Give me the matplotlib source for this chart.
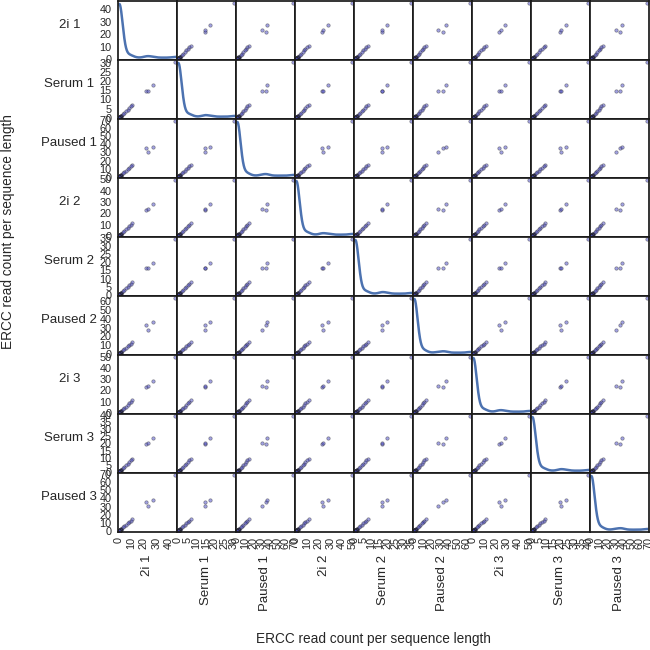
import numpy as np
import matplotlib
matplotlib.use("Agg")
import matplotlib.pyplot as plt
from matplotlib.ticker import MaxNLocator

plt.rcParams['font.family'] = ['Liberation Sans', 'DejaVu Sans']

# ---------------- data: ERCC read count per sequence length ----------------
samples = ["2i 1", "Serum 1", "Paused 1", "2i 2", "Serum 2", "Paused 2",
           "2i 3", "Serum 3", "Paused 3"]

# spike order: top spike, 3 high spikes, 7 mid spikes, 30 low spikes, then undetected spikes
undetected = [0.0] * 50

two_i_1 = [45.5, 22.0, 23.4, 27.2, 10.6, 9.3, 7.8, 6.9, 5.4, 4.3, 3.1,
           1.6, 1.47, 1.33, 1.22, 1.1, 1.02, 0.94, 0.86, 0.79, 0.7, 0.64, 0.58, 0.51, 0.46, 0.4,
           0.36, 0.31, 0.27, 0.23, 0.2, 0.17, 0.14, 0.12, 0.1, 0.08, 0.06, 0.05, 0.03, 0.02,
           0.01] + undetected
serum_1 = [30.5, 14.4, 14.7, 17.6, 7.1, 6.2, 5.3, 4.5, 3.6, 2.9, 2.0,
           1.09, 0.97, 0.92, 0.8, 0.74, 0.7, 0.61, 0.58, 0.52, 0.47, 0.43, 0.38, 0.35, 0.3, 0.27,
           0.24, 0.2, 0.18, 0.15, 0.13, 0.11, 0.09, 0.08, 0.07, 0.05, 0.04, 0.03, 0.02, 0.01,
           0.01] + undetected
paused_1 = [69.0, 35.2, 30.5, 37.2, 14.5, 12.8, 10.6, 9.4, 7.5, 5.9, 4.3,
            2.12, 2.0, 1.79, 1.68, 1.47, 1.38, 1.3, 1.14, 1.08, 0.95, 0.86, 0.8, 0.69, 0.62, 0.55,
            0.49, 0.42, 0.37, 0.31, 0.28, 0.23, 0.19, 0.16, 0.13, 0.1, 0.08, 0.06, 0.04, 0.03,
            0.01] + undetected
two_i_2 = [49.5, 22.8, 24.0, 28.4, 11.2, 9.9, 8.3, 7.2, 5.8, 4.5, 3.3,
           1.66, 1.52, 1.41, 1.27, 1.18, 1.05, 0.99, 0.9, 0.81, 0.74, 0.67, 0.6, 0.54, 0.48, 0.42,
           0.37, 0.33, 0.28, 0.25, 0.21, 0.18, 0.15, 0.12, 0.1, 0.08, 0.07, 0.05, 0.03, 0.02,
           0.01] + undetected
serum_2 = [34.5, 16.3, 16.7, 19.6, 7.8, 6.9, 5.8, 5.0, 4.0, 3.2, 2.3,
           1.17, 1.08, 0.98, 0.9, 0.82, 0.75, 0.69, 0.62, 0.57, 0.51, 0.46, 0.42, 0.37, 0.33, 0.29,
           0.26, 0.22, 0.2, 0.17, 0.14, 0.12, 0.1, 0.09, 0.07, 0.06, 0.04, 0.03, 0.02, 0.02,
           0.01] + undetected
paused_2 = [64.0, 32.8, 27.8, 36.0, 13.3, 11.7, 9.8, 8.6, 6.9, 5.4, 4.0,
            2.0, 1.86, 1.7, 1.55, 1.43, 1.3, 1.2, 1.09, 1.0, 0.9, 0.82, 0.74, 0.66, 0.59, 0.52,
            0.46, 0.4, 0.35, 0.3, 0.26, 0.22, 0.18, 0.15, 0.12, 0.1, 0.08, 0.06, 0.04, 0.02,
            0.01] + undetected
two_i_3 = [50.0, 23.2, 24.4, 28.6, 11.4, 9.8, 8.4, 7.3, 5.7, 4.6, 3.4,
           1.7, 1.57, 1.43, 1.31, 1.2, 1.1, 1.0, 0.92, 0.84, 0.76, 0.69, 0.62, 0.56, 0.5, 0.44,
           0.39, 0.34, 0.3, 0.26, 0.22, 0.19, 0.16, 0.13, 0.11, 0.09, 0.07, 0.05, 0.04, 0.02,
           0.01] + undetected
serum_3 = [39.5, 19.8, 20.4, 24.0, 9.2, 8.1, 6.8, 5.9, 4.7, 3.7, 2.7,
           1.37, 1.26, 1.15, 1.06, 0.97, 0.88, 0.81, 0.74, 0.67, 0.61, 0.55, 0.49, 0.44, 0.39, 0.35,
           0.31, 0.27, 0.23, 0.2, 0.17, 0.15, 0.12, 0.1, 0.08, 0.07, 0.05, 0.04, 0.03, 0.02,
           0.01] + undetected
paused_3 = [69.0, 36.0, 30.6, 38.4, 14.4, 12.6, 10.7, 9.3, 7.4, 5.8, 4.3,
            2.18, 2.0, 1.83, 1.68, 1.53, 1.41, 1.29, 1.18, 1.07, 0.97, 0.88, 0.79, 0.71, 0.64, 0.57,
            0.5, 0.44, 0.39, 0.34, 0.29, 0.25, 0.21, 0.17, 0.14, 0.11, 0.09, 0.07, 0.05, 0.03,
            0.01] + undetected

columns = [two_i_1, serum_1, paused_1, two_i_2, serum_2, paused_2,
           two_i_3, serum_3, paused_3]
axis_title = "ERCC read count per sequence length"

# ---------------- helpers ----------------
def gaussian_kde_eval(values, grid):
    values = np.asarray(values, float)
    n = values.size
    bw = np.std(values, ddof=1) * n ** (-1.0 / 5.0)   # Scott's rule
    diff = (grid[:, None] - values[None, :]) / bw
    return np.exp(-0.5 * diff ** 2).sum(axis=1) / (n * bw * np.sqrt(2 * np.pi))

data = [np.asarray(c, float) for c in columns]
n = len(data)
bounds = []
for v in data:
    ext = (v.max() - v.min()) * 0.05 / 2
    bounds.append((v.min() - ext, v.max() + ext))

fig, axes = plt.subplots(n, n, figsize=(6.5, 6.5), dpi=100)
fig.subplots_adjust(left=0.181, right=0.998, bottom=0.181, top=0.998,
                    wspace=0, hspace=0)

text_col = '0.15'
for i in range(n):
    for j in range(n):
        ax = axes[i, j]
        for s in ax.spines.values():
            s.set_linewidth(1.25)
            s.set_color('0.1')
        ax.tick_params(length=0, labelsize=7.8, colors=text_col)
        ax.tick_params(axis='x', pad=3.5)
        ax.tick_params(axis='y', pad=4.5)
        ax.xaxis.set_major_locator(MaxNLocator(nbins=9, steps=[1, 2, 5, 10]))
        ax.yaxis.set_major_locator(MaxNLocator(nbins=9, steps=[1, 2, 5, 10]))
        if i == j:
            v = data[i]
            ind = np.linspace(v.min(), v.max(), 1000)
            ax.plot(ind, gaussian_kde_eval(v, ind), color='#4C72B0', lw=1.8)
            ax.set_xlim(bounds[i])
        else:
            ax.scatter(data[j], data[i], marker='o', s=6, c='#4848c8',
                       edgecolors='0.15', linewidths=0.5, alpha=0.5)
            ax.set_xlim(bounds[j])
            ax.set_ylim(bounds[i])
        if j == 0:
            ax.set_ylabel(samples[i], rotation=0, fontsize=9.5, color=text_col,
                          ha='center', va='bottom')
            ax.yaxis.set_label_coords(-0.82, 0.5)
        else:
            ax.yaxis.set_visible(False)
        if i == n - 1:
            ax.set_xlabel(samples[j], rotation=90, fontsize=9.5, color=text_col)
        else:
            ax.xaxis.set_visible(False)

# relabel the top-left density axis with the data scale (as pandas does)
lim1 = bounds[0]
locs = axes[0][1].yaxis.get_majorticklocs()
locs = locs[(lim1[0] <= locs) & (locs <= lim1[1])]
adj = (locs - lim1[0]) / (lim1[1] - lim1[0])
lim0 = axes[0][0].get_ylim()
adj = adj * (lim0[1] - lim0[0]) + lim0[0]
axes[0][0].yaxis.set_ticks(adj)
axes[0][0].yaxis.set_ticklabels([str(int(l)) for l in locs])

for ax in axes[n - 1]:
    for t in ax.get_xticklabels():
        t.set_rotation(90)

fig.text(0.574, 0.017, axis_title, ha='center', va='center', fontsize=9.8,
         color=text_col)
fig.text(0.013, 0.643, axis_title, ha='center', va='center', fontsize=9.8,
         rotation=90, color=text_col)

fig.savefig("out.png", dpi=100)
